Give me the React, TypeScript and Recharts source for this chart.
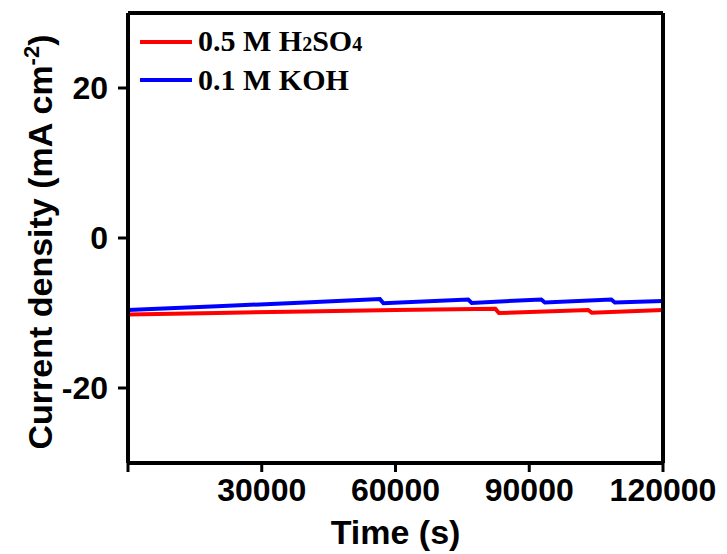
import { Legend, Line, LineChart, XAxis, YAxis } from 'recharts'

// time (s) / current density (mA cm-2)
const acidTime = [0, 20000, 39700, 60000, 82400, 83200, 103200, 104000, 120000]
const acidValues = [-10.2, -10.0, -9.8, -9.6, -9.45, -10.0, -9.6, -9.95, -9.6]

const alkTime = [0, 20000, 39700, 56500, 57300, 76300, 77100, 92700, 93500, 108400, 109200, 120000]
const alkValues = [-9.6, -9.1, -8.6, -8.15, -8.7, -8.2, -8.65, -8.2, -8.6, -8.2, -8.6, -8.4]

const xTicks = [0, 30000, 60000, 90000, 120000]
const yTicks = [-20, 0, 20]

const acidData = acidTime.map((t, i) => ({ t, v: acidValues[i] }))
const alkData = alkTime.map((t, i) => ({ t, v: alkValues[i] }))

const SANS = '"Liberation Sans", Arial, sans-serif'
const SERIF = '"Liberation Serif", "Times New Roman", serif'
const axisLine = { stroke: '#000', strokeWidth: 4 }
const tickLine = { stroke: '#000', strokeWidth: 3 }
const tickStyle = { fill: '#000', fontSize: 32, fontWeight: 700, fontFamily: SANS }

function XTitle({ viewBox }: any) {
  const cx = viewBox.x + viewBox.width / 2
  return (
    <text x={cx} y={viewBox.y + 81} textAnchor="middle" fill="#000" fontSize={34} fontWeight={700} fontFamily={SANS}>
      Time (s)
    </text>
  )
}

function YTitle({ viewBox }: any) {
  const cy = viewBox.y + viewBox.height / 2 + 4
  return (
    <text
      transform={`translate(52,${cy}) rotate(-90)`}
      textAnchor="middle"
      fill="#000"
      fontSize={34}
      fontWeight={700}
      fontFamily={SANS}
    >
      Current density (mA cm
      <tspan dy={-13} fontSize={22}>-2</tspan>
      <tspan dy={13}>)</tspan>
    </text>
  )
}

const legendItems = [
  { color: '#ff0000', label: <>0.5 M H<span style={{ fontSize: 20 }}>2</span>SO<span style={{ fontSize: 20 }}>4</span></> },
  { color: '#0000ff', label: <>0.1 M KOH</> },
]

function LegendBox() {
  return (
    <div>
      {legendItems.map((it, i) => (
        <div key={i} style={{ display: 'flex', alignItems: 'center', height: 38 }}>
          <div style={{ width: 52, height: 4, background: it.color, marginRight: 6 }} />
          <span style={{ fontFamily: SERIF, fontWeight: 700, fontSize: 30, lineHeight: '38px', color: '#000' }}>
            {it.label}
          </span>
        </div>
      ))}
    </div>
  )
}

export default function App() {
  return (
    <div style={{ width: 727, height: 554, background: '#fff' }}>
      <style>{'body{margin:0}'}</style>
      <LineChart width={727} height={554} margin={{ top: 12, right: 0, bottom: 0, left: 0 }}>
        <XAxis
          xAxisId="b"
          type="number"
          dataKey="t"
          domain={[0, 120000]}
          ticks={xTicks}
          tickFormatter={(v) => (v === 0 ? '' : String(v))}
          axisLine={axisLine}
          tickLine={tickLine}
          tickSize={9}
          tickMargin={6}
          tick={tickStyle}
          height={91}
          interval={0}
          label={XTitle}
        />
        <XAxis xAxisId="t" orientation="top" type="number" dataKey="t" domain={[0, 120000]} tick={false} tickLine={false} axisLine={axisLine} height={1} />
        <YAxis
          yAxisId="l"
          type="number"
          domain={[-30, 30]}
          ticks={yTicks}
          axisLine={axisLine}
          tickLine={tickLine}
          tickSize={10}
          tickMargin={10}
          tick={tickStyle}
          width={128}
          interval={0}
          label={YTitle}
        />
        <YAxis yAxisId="r" orientation="right" domain={[-30, 30]} tick={false} tickLine={false} axisLine={axisLine} width={64} />
        <Legend
          verticalAlign="middle"
          align="center"
          layout="horizontal"
          content={LegendBox}
          wrapperStyle={{ top: 23, left: 140, width: 'auto', height: 'auto' }}
        />
        <Line xAxisId="b" yAxisId="l" data={acidData} dataKey="v" type="linear" stroke="#ff0000" strokeWidth={4} dot={false} isAnimationActive={false} />
        <Line xAxisId="b" yAxisId="l" data={alkData} dataKey="v" type="linear" stroke="#0000ff" strokeWidth={4} dot={false} isAnimationActive={false} />
      </LineChart>
    </div>
  )
}
